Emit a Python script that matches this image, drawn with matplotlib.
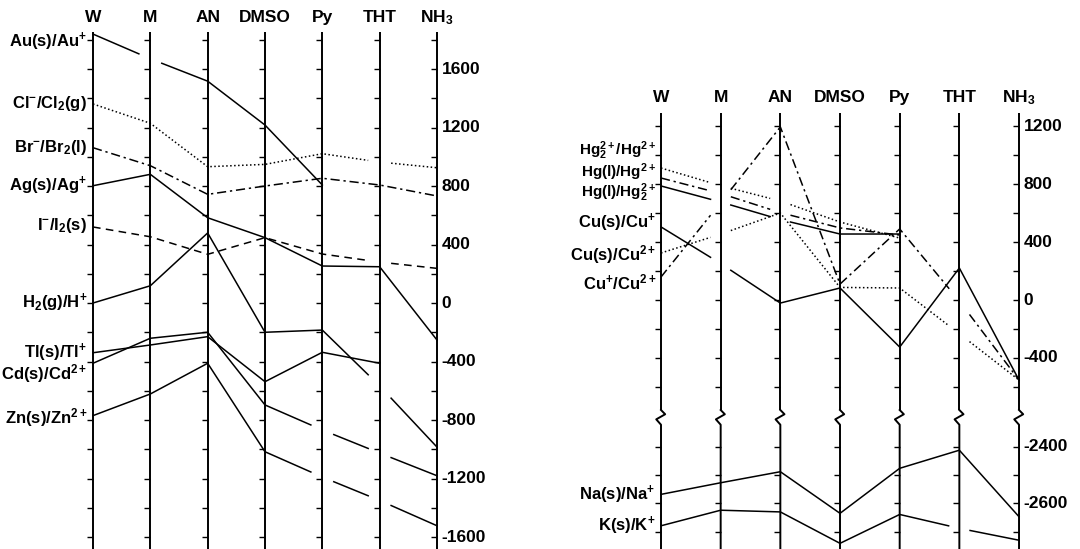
import matplotlib
matplotlib.use('Agg')
import matplotlib.pyplot as plt
import numpy as np

plt.rcParams['font.family'] = ['Liberation Sans', 'DejaVu Sans']
plt.rcParams['font.weight'] = 'bold'
plt.rcParams['mathtext.fontset'] = 'custom'
plt.rcParams['mathtext.rm'] = 'Liberation Sans:bold'
plt.rcParams['mathtext.it'] = 'Liberation Sans:bold'
plt.rcParams['mathtext.bf'] = 'Liberation Sans:bold'

nan = np.nan
solvents = ['W', 'M', 'AN', 'DMSO', 'Py', 'THT', r'NH$_3$']

# left panel, potentials in mV (order W, M, AN, DMSO, Py, THT, NH3)
left_labels = [r'Au(s)/Au$^{+}$', r'Cl$^{-}$/Cl$_{2}$(g)', r'Br$^{-}$/Br$_{2}$(l)',
               r'Ag(s)/Ag$^{+}$', r'I$^{-}$/I$_{2}$(s)', r'H$_{2}$(g)/H$^{+}$',
               r'Tl(s)/Tl$^{+}$', r'Cd(s)/Cd$^{2+}$', r'Zn(s)/Zn$^{2+}$']
au = [1839, 1670, 1517, 1217, 807, nan, nan]
cl = [1361, 1229, 932, 948, 1021, 964, 925]
br = [1062, 939, 743, 800, 853, 807, 732]
ag = [802, 880, 583, 447, 253, 248, -253]
iod = [520, 453, 333, 447, 335, 280, 237]
h2 = [0, 118, 479, -200, -185, -567, -985]
tl = [-340, -287, -230, -538, -337, -412, nan]
cd = [-412, -241, -200, -697, -868, -1026, -1181]
zn = [-770, -622, -412, -1017, -1190, -1350, -1523]
left_series = [au, cl, br, ag, iod, h2, tl, cd, zn]
left_styles = ['solid', 'dotted', 'dashdot', 'solid', 'dashed', 'solid', 'solid', 'solid', 'solid']
left_breaks = [[1], [5], [], [], [5], [5], [], [4, 5], [4, 5]]
left_label_y = [1785, 1361, 1062, 802, 530, 0, -340, -485, -780]

# right panel
right_labels = [r'Hg$_2^{2+}$/Hg$^{2+}$', r'Hg(l)/Hg$^{2+}$', r'Hg(l)/Hg$_2^{2+}$',
                r'Cu(s)/Cu$^{+}$', r'Cu(s)/Cu$^{2+}$', r'Cu$^{+}$/Cu$^{2+}$']
hg22_hg2 = [912, 790, 684, 539, 428, nan, nan]
hg_hg2 = [843, 736, 604, 498, 449, nan, nan]
hg_hg22 = [788, 677, 556, 456, 456, nan, nan]
cu_cu1 = [505, 252, -21, 83, -325, 221, -553]
cu_cu2 = [325, 455, 601, 87, 83, -233, -553]
cu1_cu2 = [159, 673, 1196, 110, 491, -7, -553]
right_series = [hg22_hg2, hg_hg2, hg_hg22, cu_cu1, cu_cu2, cu1_cu2]
right_styles = ['dotted', 'dashdot', 'solid', 'solid', 'dotted', 'dashdot']
right_breaks = [[1, 2], [1, 2], [1, 2], [1], [1, 5], [1, 5]]
right_label_y = [1030, 885, 740, 532, 311, 124]

alk_labels = [r'Na(s)/Na$^{+}$', r'K(s)/K$^{+}$']
na = [-2568, -2527, -2488, -2635, -2476, -2412, -2647]
k = [-2679, -2624, -2630, -2741, -2639, -2688, -2730]
alk_series = [na, k]
alk_breaks = [[], [5]]
alk_label_y = [-2568, -2679]

left_ticklabels = [1600, 1200, 800, 400, 0, -400, -800, -1200, -1600]
upper_ticklabels = [1200, 800, 400, 0, -400]
lower_ticklabels = [-2400, -2600]

line_styles = {'solid': '-', 'dotted': (0, (1, 1.6)),
               'dashdot': (0, (6, 2.5, 1.5, 2.5)), 'dashed': (0, (5, 3.5))}


def draw_couple(ax, vals, style, breaks, gap):
    runs = []
    last_end = None
    for i in range(len(vals) - 1):
        a, b = vals[i], vals[i + 1]
        if np.isnan(a) or np.isnan(b):
            last_end = None
            continue
        t0 = gap if i in breaks else 0.0
        t1 = 1.0 - gap if (i + 1) in breaks else 1.0
        pa = (i + t0, a + (b - a) * t0)
        pb = (i + t1, a + (b - a) * t1)
        if t0 == 0.0 and last_end == i and runs:
            runs[-1].append(pb)
        else:
            runs.append([pa, pb])
        last_end = i + 1 if t1 == 1.0 else None
    for run in runs:
        xs, ys = zip(*run)
        ax.plot(xs, ys, color='k', lw=1.1, ls=line_styles[style])


fig = plt.figure(figsize=(10.8, 5.49), dpi=100)
xpos = np.arange(len(solvents))

# ---- left panel
ax = fig.add_axes([0, 0, 0.5, 1])
ax.set_xlim(-93 / 57.33, (540 - 93) / 57.33)
ax.set_ylim(-1682, 2072)
ax.axis('off')
ax.vlines(xpos, -1682, 1853, color='k', lw=1.4)
ticks = np.arange(-1600, 1801, 200)
for x in xpos:
    ax.plot([x] * len(ticks), ticks, ls='none', marker=0, ms=4, mew=1, color='k')
for x, s in zip(xpos, solvents):
    ax.text(x, 1949, s, ha='center', va='center', fontsize=12.5, fontweight='bold')
for v in left_ticklabels:
    ax.text(xpos[-1] + 0.08, v, str(v), ha='left', va='center', fontsize=12.5, fontweight='bold')
for vals, st, br_, lab, ly in zip(left_series, left_styles, left_breaks, left_labels, left_label_y):
    draw_couple(ax, vals, st, br_, 0.2)
    ax.text(-0.1, ly, lab, ha='right', va='center', fontsize=12, fontweight='bold')

# ---- right panel, upper part
axu = fig.add_axes([0.5, 139 / 549, 0.5, 410 / 549])
axu.set_xlim((540 - 661) / 59.67, (1080 - 661) / 59.67)
axu.set_ylim(-760, 2073)
axu.axis('off')
axu.vlines(xpos, -760, 1292, color='k', lw=1.4)
ticks_u = np.arange(-600, 1201, 200)
for x in xpos:
    axu.plot([x] * len(ticks_u), ticks_u, ls='none', marker=0, ms=4, mew=1, color='k')
for x, s in zip(xpos, solvents):
    axu.text(x, 1396, s, ha='center', va='center', fontsize=12.5, fontweight='bold')
for v in upper_ticklabels:
    axu.text(xpos[-1] + 0.08, v, str(v), ha='left', va='center', fontsize=12.5, fontweight='bold')
for vals, st, br_, lab, ly in zip(right_series, right_styles, right_breaks, right_labels, right_label_y):
    draw_couple(axu, vals, st, br_, 0.17)
    fs = 11 if lab.startswith('Hg') else 12
    axu.text(-0.08, ly, lab, ha='right', va='center', fontsize=fs, fontweight='bold')

# ---- right panel, lower part (expanded scale)
axl = fig.add_axes([0.5, 0, 0.5, 139 / 549])
axl.set_xlim((540 - 661) / 59.67, (1080 - 661) / 59.67)
axl.set_ylim(-2761, -2270)
axl.axis('off')
for x in xpos:
    axl.plot([x, x + 0.07, x - 0.08, x, x], [-2270, -2285, -2303, -2322, -2761],
             color='k', lw=1.4, clip_on=False)
ticks_l = np.arange(-2700, -2399, 100)
for x in xpos:
    axl.plot([x] * len(ticks_l), ticks_l, ls='none', marker=0, ms=4, mew=1, color='k')
for v in lower_ticklabels:
    axl.text(xpos[-1] + 0.08, v, str(v), ha='left', va='center', fontsize=12.5, fontweight='bold')
for vals, br_, lab, ly in zip(alk_series, alk_breaks, alk_labels, alk_label_y):
    draw_couple(axl, vals, 'solid', br_, 0.18)
    axl.text(-0.1, ly, lab, ha='right', va='center', fontsize=12, fontweight='bold')

fig.savefig('out.png', dpi=100)
